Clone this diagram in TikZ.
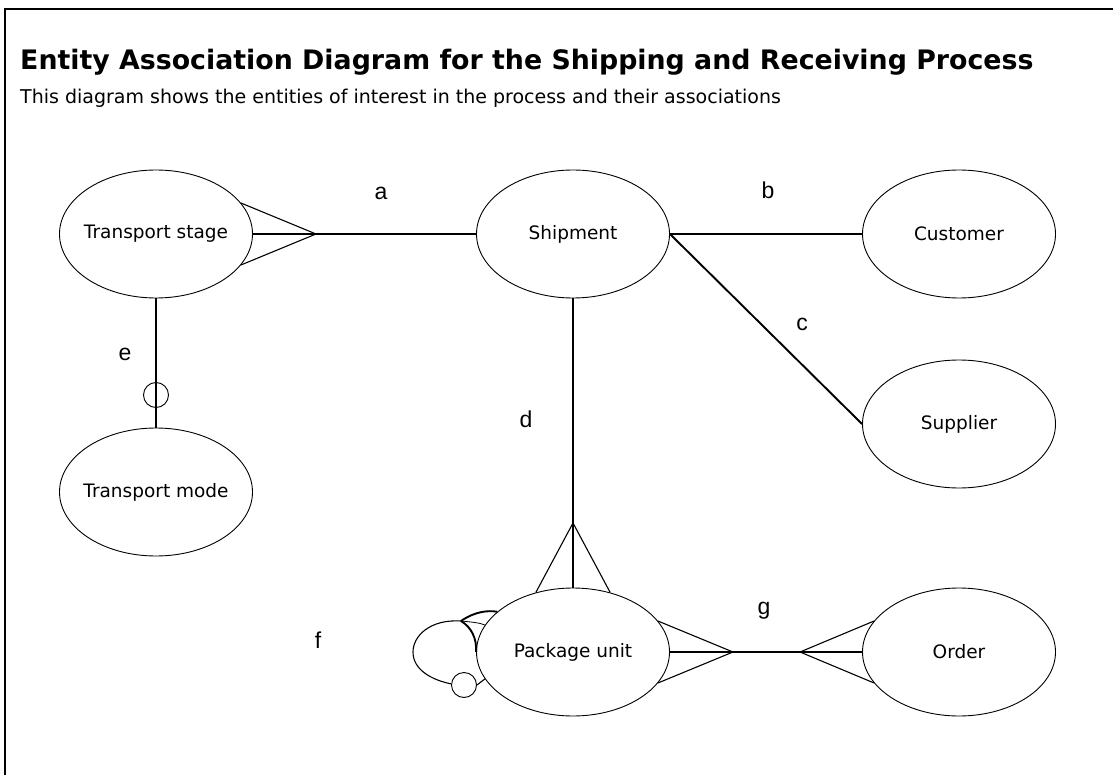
\documentclass[tikz,border=0pt]{standalone}
\usepackage{fontspec}
\setmainfont{DejaVu Sans}
\newfontfamily\letterfont{Liberation Sans}
\usetikzlibrary{shapes.geometric}
% zero-width label so the ellipse keeps its set size
\newcommand\entitylabel[1]{\makebox[0pt]{#1}}
\begin{document}
\begin{tikzpicture}[x=1pt,y=-1pt,
  entity/.style={draw, ellipse, line width=0.9pt, minimum width=193pt, minimum height=128pt,
    inner sep=0pt, font=\fontsize{18.5}{20}\selectfont},
  link/.style={line width=1.1pt},
  heavy/.style={line width=1.9pt},
  tag/.style={font=\letterfont\fontsize{23}{25}\selectfont, inner sep=0pt},
  optional/.style={draw, circle, line width=0.9pt, minimum size=25pt, inner sep=0pt, fill=white}]
\useasboundingbox (0,0) rectangle (1113,775);
% frame
\draw[line width=2.8pt] (5,775) -- (5,9) -- (1113,9);
% heading
\node[anchor=base west, inner sep=0pt, font=\bfseries\fontsize{26.8}{28}\selectfont] (title) at (20,70)
  {Entity Association Diagram for the Shipping and Receiving Process};
\node[anchor=base west, inner sep=0pt, font=\fontsize{19}{21}\selectfont] (subtitle) at (20,104)
  {This diagram shows the entities of interest in the process and their associations};
% entities
\node[entity] (ts) at (156,234) {\entitylabel{Transport stage}};
\node[entity] (sh) at (573,234) {\entitylabel{Shipment}};
\node[entity] (cu) at (959,234) {\entitylabel{Customer}};
\node[entity] (su) at (959,424) {\entitylabel{Supplier}};
\node[entity] (tm) at (156,492) {\entitylabel{Transport mode}};
\node[entity] (pu) at (573,652) {\entitylabel{Package unit}};
\node[entity] (or) at (959,652) {\entitylabel{Order}};
% a: many transport stages per shipment
\coordinate (aA) at (316,234);
\draw[link] (ts.20) -- (aA) -- (ts.-20);
\draw[link] (ts.east) -- (aA) -- (sh.west);
% b, c
\draw[heavy] (sh.east) -- (cu.west);
\draw[heavy] (sh.east) -- (su.180);
% d: many package units per shipment
\coordinate (dA) at (573,523);
\draw[link] (sh.south) -- (dA);
\draw[link] (pu.122) -- (dA) -- (pu.58);
\draw[link] (dA) -- (pu.north);
% e: optional transport mode
\draw[heavy] (ts.south) -- (tm.north);
\node[optional] (ec) at (156,395) {};
\draw[heavy] (ec.north) -- (ec.south);
% g: many-to-many package unit / order
\coordinate (gA) at (733,652);
\coordinate (gB) at (800,652);
\draw[link] (pu.20) -- (gA) -- (pu.-20);
\draw[link] (pu.east) -- (gA) -- (gB) -- (or.west);
\draw[link] (or.160) -- (gB) -- (or.200);
% f: recursive package unit
\coordinate (fA) at (461,621);
\node[optional] (fc) at (464,685) {};
\draw[link] (fA) .. controls (430,619) and (413,636) .. (413,652)
  .. controls (413,670) and (432,680) .. (fc.175);
\draw[link] (fc.east) -- (pu.197);
\draw[heavy] (fA) .. controls (474,612) and (487,610) .. (pu.152);
\draw[line width=0.8pt] (fA) .. controls (472,622) and (481,623) .. (pu.163);
\draw[heavy] (fA) .. controls (471,627) and (477,638) .. (pu.180);
% association letters
\node[tag] (la) at (381,193) {a};
\node[tag] (lb) at (768,190) {b};
\node[tag] (lc) at (802,324) {c};
\node[tag] (ld) at (526,419) {d};
\node[tag] (le) at (125,354) {e};
\node[tag] (lf) at (318,640) {f};
\node[tag] (lg) at (764,611) {g};
\end{tikzpicture}
\end{document}
